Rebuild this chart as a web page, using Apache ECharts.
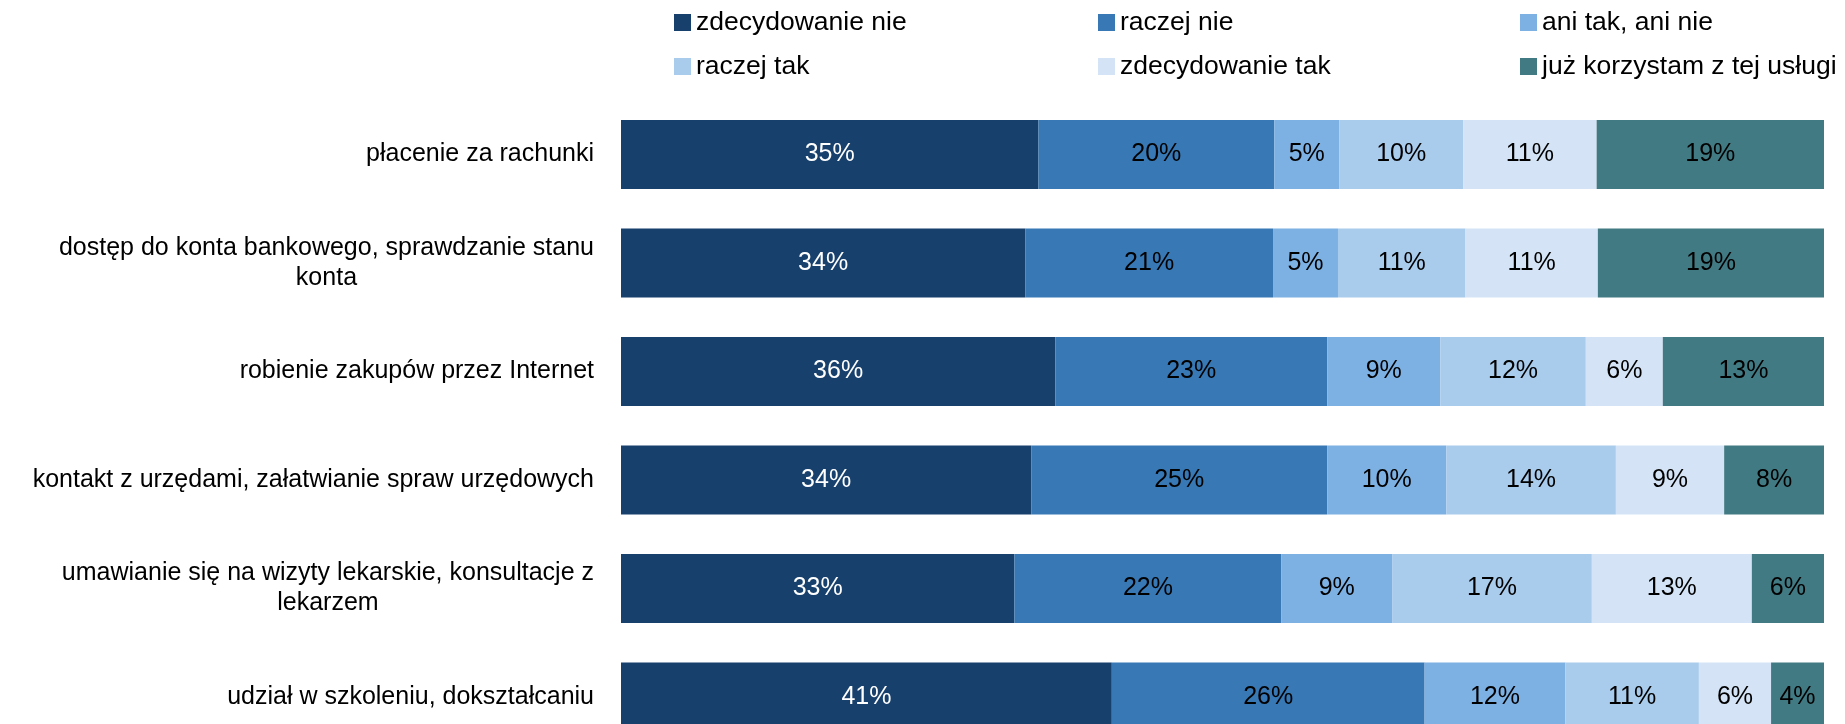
<!DOCTYPE html>
<html>
<head>
<meta charset="utf-8">
<script src="https://cdn.jsdelivr.net/npm/echarts@6/dist/echarts.min.js"></script>
<style>
  html, body { margin: 0; padding: 0; background: #ffffff; }
  #chart { width: 1845px; height: 724px; }
</style>
</head>
<body>
<div id="chart"></div>
<script>
const categories = [
  'płacenie za rachunki',
  'dostęp do konta bankowego, sprawdzanie stanu\nkonta',
  'robienie zakupów przez Internet',
  'kontakt z urzędami, załatwianie spraw urzędowych',
  'umawianie się na wizyty lekarskie, konsultacje z\nlekarzem',
  'udział w szkoleniu, dokształcaniu'
];
const seriesNames = ['zdecydowanie nie', 'raczej nie', 'ani tak, ani nie', 'raczej tak', 'zdecydowanie tak', 'już korzystam z tej usługi'];
const zdecydowanieNie = [34.7, 33.6, 36.1, 34.1, 32.7, 40.8];
const raczejNie       = [19.6, 20.6, 22.6, 24.6, 22.2, 26.0];
const aniTakAniNie    = [5.4, 5.4, 9.4, 9.9, 9.2, 11.7];
const raczejTak       = [10.3, 10.6, 12.1, 14.1, 16.6, 11.1];
const zdecydowanieTak = [11.1, 11.0, 6.4, 9.0, 13.3, 6.0];
const juzKorzystam    = [18.9, 18.8, 13.4, 8.3, 6.0, 4.4];

const values = [zdecydowanieNie, raczejNie, aniTakAniNie, raczejTak, zdecydowanieTak, juzKorzystam];
const colors = ['#17406D', '#3778B5', '#7DB0E3', '#A9CBEC', '#D4E4F6', '#427A83'];
const labelColors = ['#ffffff', '#000000', '#000000', '#000000', '#000000', '#000000'];
const FONT = '"Liberation Sans", Arial, sans-serif';

const chart = echarts.init(document.getElementById('chart'));

function legendColumn(left, names) {
  return {
    orient: 'vertical',
    left: left,
    top: 7.5,
    itemWidth: 17,
    itemHeight: 17,
    itemGap: 14,
    icon: 'rect',
    selectedMode: false,
    padding: 0,
    data: names,
    textStyle: { fontFamily: FONT, fontSize: 26.5, color: '#000', lineHeight: 30 }
  };
}

const option = {
  backgroundColor: '#ffffff',
  animation: false,
  color: colors,
  legend: [
    legendColumn(674, [seriesNames[0], seriesNames[3]]),
    legendColumn(1098, [seriesNames[1], seriesNames[4]]),
    legendColumn(1520, [seriesNames[2], seriesNames[5]])
  ],
  grid: { left: 621, right: 21, top: 154.5, bottom: 27, containLabel: false },
  xAxis: {
    type: 'value', min: 0, max: 100, show: false
  },
  yAxis: {
    type: 'category',
    inverse: true,
    boundaryGap: false,
    data: categories,
    axisLine: { show: false },
    axisTick: { show: false },
    splitLine: { show: false },
    axisLabel: {
      margin: 27,
      align: 'right',
      fontFamily: FONT,
      fontSize: 25,
      color: '#000',
      lineHeight: 30,
      formatter: function (v) {
        return v.split('\n').map(function (l) { return '{c|' + l + '}'; }).join('\n');
      },
      rich: {
        c: { align: 'center', fontFamily: FONT, fontSize: 25, color: '#000', lineHeight: 30 }
      }
    }
  },
  series: seriesNames.map(function (name, i) {
    return {
      name: name,
      type: 'bar',
      stack: 'total',
      barWidth: 69,
      clip: false,
      data: values[i],
      itemStyle: { color: colors[i] },
      label: {
        show: true,
        position: 'inside',
        fontFamily: FONT,
        fontSize: 25,
        color: labelColors[i],
        formatter: function (p) { return Math.round(p.value) + '%'; }
      }
    };
  })
};

chart.setOption(option);
</script>
</body>
</html>
